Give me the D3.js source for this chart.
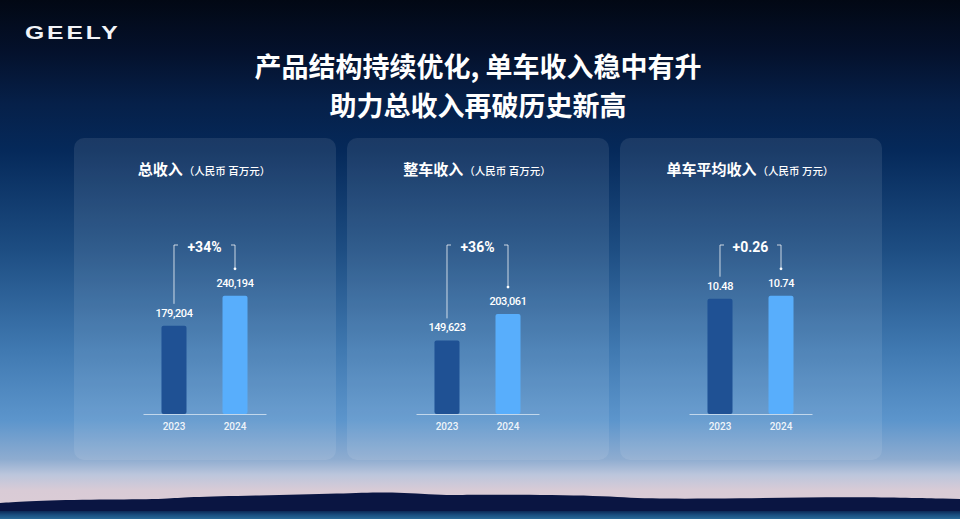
<!DOCTYPE html>
<html><head><meta charset="utf-8">
<script src="https://cdn.jsdelivr.net/npm/d3@7/dist/d3.min.js"></script>
<style>
html,body{margin:0;padding:0;background:#020717;}
svg{display:block;}
</style></head>
<body>
<script>
// ---- data ----
const years = ["2023", "2024"];
const panelTitles = ["总收入", "整车收入", "单车平均收入"];
const panelUnits = ["（人民币 百万元）", "（人民币 百万元）", "（人民币 万元）"];
const totalRevenue = [179204, 240194];
const vehicleRevenue = [149623, 203061];
const avgRevenuePerVehicle = [10.48, 10.74];
const changeLabels = ["+34%", "+36%", "+0.26"];
const titleLines = ["产品结构持续优化, 单车收入稳中有升", "助力总收入再破历史新高"];
const brand = "GEELY";
// decorative mountain ridge (background only)
const ridgeX = [0, 37, 110, 171, 184, 257, 343, 392, 441, 490, 606, 643, 735, 857, 960];
const ridgeY = [503, 500.5, 499.5, 499, 497, 495.5, 493.5, 491.5, 495.5, 494.5, 495.5, 499, 498.5, 496.5, 499];

const W = 960, H = 519;
const CJK = "'Noto Sans CJK SC','Noto Sans',sans-serif";
const NUM = "Roboto,'Noto Sans',sans-serif";

const svg = d3.select("body").append("svg").attr("width", W).attr("height", H);
const defs = svg.append("defs");
const bg = defs.append("linearGradient").attr("id", "bg").attr("x1", 0).attr("y1", 0).attr("x2", 0).attr("y2", 1);
[[0, "#020814"], [0.1, "#04112c"], [0.2, "#062049"], [0.29, "#05295a"], [0.48, "#1d4d82"],
 [0.67, "#3f78b0"], [0.81, "#5c95cc"], [0.885, "#8eacd0"], [0.915, "#bcc6dc"], [0.945, "#d9cbd6"], [1, "#dccdd6"]]
  .forEach(([o, c]) => bg.append("stop").attr("offset", o).attr("stop-color", c));
const water = defs.append("linearGradient").attr("id", "water").attr("x1", 0).attr("y1", 0).attr("x2", 0).attr("y2", 1);
[[0, "#0c2a58"], [0.5, "#1a4f80"], [1, "#2a6a98"]]
  .forEach(([o, c]) => water.append("stop").attr("offset", o).attr("stop-color", c));

svg.append("rect").attr("width", W).attr("height", H).attr("fill", "url(#bg)");

// mountains
const ridge = ridgeX.map((x, i) => [x, ridgeY[i]]);
const area = d3.area().x(d => d[0]).y0(513).y1(d => d[1]).curve(d3.curveBasis);
svg.append("path").datum(ridge).attr("d", area).attr("fill", "#0a1542");
svg.append("rect").attr("x", 0).attr("y", 511).attr("width", W).attr("height", 8).attr("fill", "url(#water)");

// brand
svg.append("text").attr("x", 0).attr("y", 0).text(brand)
  .attr("font-family", "'Liberation Sans',Arial,sans-serif").attr("font-weight", 700)
  .attr("font-size", 19).attr("letter-spacing", 2.2).attr("fill", "#f2f4f8")
  .attr("transform", "translate(25,38.5) scale(1.3,1)");

// title
svg.selectAll("text.title").data(titleLines).join("text").attr("class", "title")
  .attr("x", 478).attr("y", (d, i) => 76.5 + i * 39)
  .attr("text-anchor", "middle").attr("font-family", CJK).attr("font-weight", 700)
  .attr("font-size", 27).attr("fill", "#ffffff").text(d => d);

// panels
const panelX = [74, 347, 620], panelW = 262, panelTop = 138, panelH = 322;
const series = [totalRevenue, vehicleRevenue, avgRevenuePerVehicle];
const baseY = 414;
const yMoney = d3.scaleLinear().domain([0, 300000]).range([baseY, baseY - 300000 / 2033]);
const yAvg = d3.scaleLinear().domain([0, 12]).range([baseY, baseY - 12 / 0.0909]);
const scalesY = [yMoney, yMoney, yAvg];
const fmts = [d3.format(","), d3.format(","), d3.format(".2f")];
const barColors = ["#1f5194", "#58aefc"];

series.forEach((vals, p) => {
  const g = svg.append("g").attr("transform", `translate(${panelX[p]},0)`);
  g.append("rect").attr("x", 0).attr("y", panelTop).attr("width", panelW).attr("height", panelH)
    .attr("rx", 10).attr("fill", "#ffffff").attr("fill-opacity", 0.09);

  // title
  const t = g.append("text").attr("x", panelW / 2 - 1).attr("y", 175).attr("text-anchor", "middle")
    .attr("font-family", CJK).attr("fill", "#ffffff");
  t.append("tspan").attr("font-size", 15).attr("font-weight", 700).text(panelTitles[p]);
  t.append("tspan").attr("font-size", 10.5).attr("font-weight", 500).attr("dx", 1).text(panelUnits[p]);

  const x = d3.scaleBand().domain(years).range([69, 192]).paddingInner(0.59).paddingOuter(0.303);
  const y = scalesY[p];

  // axis baseline + year labels
  const ax = g.append("g").attr("transform", `translate(0,${baseY})`)
    .call(d3.axisBottom(x).tickSize(0).tickPadding(9));
  ax.select(".domain").attr("stroke", "#ffffff").attr("stroke-opacity", 0.6).attr("stroke-width", 1);
  ax.selectAll("text").attr("font-family", NUM).attr("font-size", 10).attr("font-weight", 500)
    .attr("fill", "#ffffff").attr("fill-opacity", 0.9);

  // bars
  g.selectAll("rect.bar").data(vals).join("rect").attr("class", "bar")
    .attr("x", (d, i) => x(years[i])).attr("width", x.bandwidth())
    .attr("y", d => y(d)).attr("height", d => baseY - y(d))
    .attr("rx", 2).attr("fill", (d, i) => barColors[i]);

  // value labels
  g.selectAll("text.val").data(vals).join("text").attr("class", "val")
    .attr("x", (d, i) => x(years[i]) + x.bandwidth() / 2).attr("y", d => y(d) - 9)
    .attr("text-anchor", "middle").attr("font-family", NUM).attr("font-weight", 500)
    .attr("font-size", 11).attr("letter-spacing", -0.4).attr("fill", "#ffffff").text((d, i) => fmts[p](d));

  // change bracket
  const cx0 = x(years[0]) + x.bandwidth() / 2, cx1 = x(years[1]) + x.bandwidth() / 2;
  const topY = 245;
  const path = d3.path();
  path.moveTo(cx0, y(vals[0]) - 22); path.lineTo(cx0, topY); path.lineTo(cx0 + 4, topY);
  path.moveTo(cx1 - 4, topY); path.lineTo(cx1, topY); path.lineTo(cx1, y(vals[1]) - 27);
  g.append("path").attr("d", path.toString()).attr("fill", "none")
    .attr("stroke", "#ffffff").attr("stroke-opacity", 0.75).attr("stroke-width", 1);
  g.append("circle").attr("cx", cx1).attr("cy", y(vals[1]) - 27).attr("r", 1.4).attr("fill", "#ffffff");
  g.append("text").attr("x", (cx0 + cx1) / 2).attr("y", 251.5).attr("text-anchor", "middle")
    .attr("font-family", NUM).attr("font-weight", 700).attr("font-size", 14)
    .attr("fill", "#ffffff").text(changeLabels[p]);
});
</script>
</body></html>
